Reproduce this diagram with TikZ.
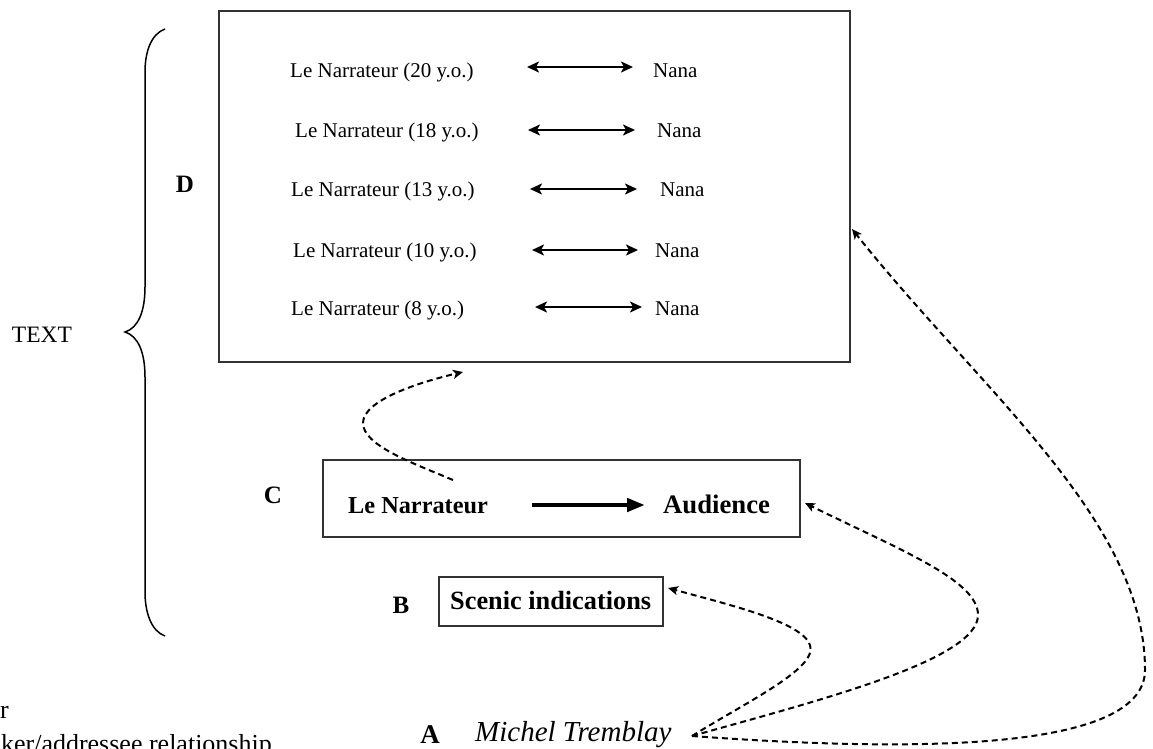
\documentclass[tikz,border=0pt]{standalone}
\usepackage{fontspec}
\setmainfont{Liberation Serif}
\usetikzlibrary{arrows.meta}
\begin{document}
\begin{tikzpicture}[x=1pt,y=-1pt,
  box/.style={draw=black!80, line width=1.5pt, inner sep=0pt},
  rowtxt/.style={font=\fontsize{21}{25}\selectfont, inner sep=0pt, anchor=base west},
  lbl/.style={font=\bfseries\fontsize{25}{30}\selectfont, inner sep=0pt, anchor=base},
  boldtxt/.style={font=\bfseries\fontsize{25.5}{30}\selectfont, inner sep=0pt, anchor=base west},
  dbl/.style={{Stealth[length=12pt,width=11pt,inset=3pt]}-{Stealth[length=12pt,width=11pt,inset=3pt]}, line width=2.4pt},
  thickarrow/.style={-{Triangle[length=18pt,width=13pt]}, line width=4.5pt},
  dasharrow/.style={-{Stealth[length=10pt,width=9pt,inset=2.5pt]}, line width=2pt, dash pattern=on 6pt off 4pt},
  bracepath/.style={line width=1.5pt}
]
\useasboundingbox (0,0) rectangle (1153,749);
\clip (0,0) rectangle (1153,749);

% boxes
\node[box, minimum width=631pt, minimum height=351pt] (Dbox) at (534.5,186.5) {};
\node[box, minimum width=477pt, minimum height=77pt] (Cbox) at (561.5,498.5) {};
\node[box, minimum width=224pt, minimum height=49pt] (Bbox) at (551,601.5) {};

% rows in D box
\node[rowtxt] (n1) at (290,78) {Le Narrateur (20 y.o.)};
\node[rowtxt] (m1) at (653,78) {Nana};
\node[rowtxt] (n2) at (295,137) {Le Narrateur (18 y.o.)};
\node[rowtxt] (m2) at (657,137) {Nana};
\node[rowtxt] (n3) at (291,196) {Le Narrateur (13 y.o.)};
\node[rowtxt] (m3) at (660,196) {Nana};
\node[rowtxt] (n4) at (293,257) {Le Narrateur (10 y.o.)};
\node[rowtxt] (m4) at (655,257) {Nana};
\node[rowtxt] (n5) at (291,315) {Le Narrateur (8 y.o.)};
\node[rowtxt] (m5) at (655,315) {Nana};

\coordinate (a1l) at (527,67);  \coordinate (a1r) at (633,67);
\coordinate (a2l) at (528,130); \coordinate (a2r) at (635,130);
\coordinate (a3l) at (530,189); \coordinate (a3r) at (637,189);
\coordinate (a4l) at (532,250); \coordinate (a4r) at (638,250);
\coordinate (a5l) at (535,307); \coordinate (a5r) at (642,307);
\draw[dbl] (a1l) -- (a1r);
\draw[dbl] (a2l) -- (a2r);
\draw[dbl] (a3l) -- (a3r);
\draw[dbl] (a4l) -- (a4r);
\draw[dbl] (a5l) -- (a5r);

% C box content
\node[boldtxt, font=\bfseries\fontsize{24.3}{30}\selectfont] (LN) at (348,513) {Le Narrateur};
\node[boldtxt, font=\bfseries\fontsize{26.7}{30}\selectfont] (AU) at (663,513) {Audience};
\coordinate (tl) at (532,505); \coordinate (tr) at (645,505);
\draw[thickarrow] (tl) -- (tr);

% B box content
\node[boldtxt, font=\bfseries\fontsize{26.3}{30}\selectfont] (SI) at (450,609) {Scenic indications};

% labels
\node[lbl] (LD) at (185,192) {D};
\node[lbl] (LC) at (273,503) {C};
\node[lbl] (LB) at (401,613) {B};
\node[lbl, font=\bfseries\fontsize{27}{30}\selectfont] (LA) at (430,743) {A};
\node[font=\fontsize{23.5}{28}\selectfont, inner sep=0pt, anchor=base] (TX) at (42,342) {TEXT};
\node[font=\itshape\fontsize{29}{34}\selectfont, inner sep=0pt, anchor=base west] (MT) at (475,741) {Michel Tremblay};

% cut-off legend lines
\node[font=\fontsize{26}{30}\selectfont, inner sep=0pt, anchor=base east] (L1) at (9,718) {r};
\node[font=\fontsize{26}{30}\selectfont, inner sep=0pt, anchor=base east] (L2) at (272,752) {ker/addressee relationship};

% brace
\draw[bracepath] (165,29) .. controls (151,34) and (145,52) .. (145,72) -- (145,287)
  .. controls (145,312) and (138,328) .. (125,332)
  .. controls (138,336) and (145,352) .. (145,377) -- (145,592)
  .. controls (145,612) and (151,631) .. (165,636);

% dashed connectors
\coordinate (src) at (692,736);
\coordinate (tB) at (668,588);
\coordinate (tC) at (805,503);
\coordinate (tD) at (852,229);
\coordinate (s4) at (453,480);
\coordinate (t4) at (463,372);
\draw[dasharrow] (src) .. controls (750,700) and (818,668) .. (810,645) .. controls (802,622) and (730,605) .. (tB);
\draw[dasharrow] (src) .. controls (820,700) and (978,660) .. (978,615) .. controls (978,580) and (900,550) .. (tC);
\draw[dasharrow] (src) .. controls (950,755) and (1145,745) .. (1145,670) .. controls (1145,520) and (980,390) .. (tD);
\draw[dasharrow] (s4) .. controls (410,462) and (363,445) .. (363,423) .. controls (363,400) and (420,382) .. (t4);
\end{tikzpicture}
\end{document}
